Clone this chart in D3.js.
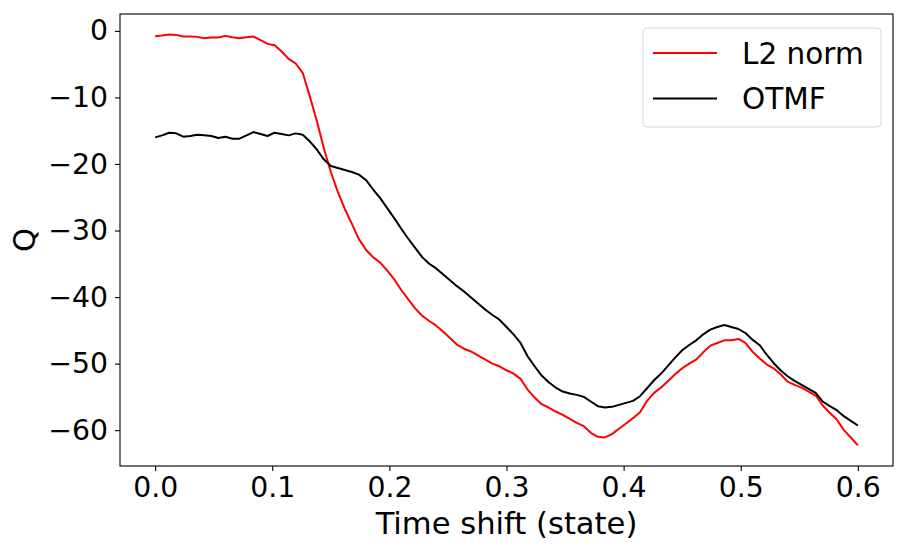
<!DOCTYPE html>
<html>
<head>
<meta charset="utf-8">
<script src="https://cdn.jsdelivr.net/npm/d3@7"></script>
<style>
  body { margin: 0; background: #fff; }
  svg { display: block; font-family: "DejaVu Sans", sans-serif; }
  .axis path, .axis line { stroke: #000; stroke-width: 1.1; }
  .axis text { font-size: 28.3px; fill: #000; font-family: "DejaVu Sans", sans-serif; }
</style>
</head>
<body>
<div id="chart"></div>
<script>
// time shift grid (state), step 0.006
const timeShift = d3.range(0, 101).map(i => +(i * 0.006).toFixed(3));

// L2 norm series
const l2Norm = [
  -0.8, -0.7, -0.55, -0.6, -0.85, -0.85, -0.9, -1.1, -1.0, -1.0,
  -0.75, -0.95, -1.1, -0.95, -0.85, -1.4, -1.95, -2.15, -3.1, -4.2,
  -4.9, -6.3, -9.8, -13.5, -17.6, -21.2, -24.2, -26.8, -29.0, -31.3,
  -32.9, -34.0, -34.8, -36.0, -37.3, -38.9, -40.3, -41.7, -42.8, -43.6,
  -44.3, -45.2, -46.2, -47.2, -47.8, -48.2, -48.8, -49.4, -50.0, -50.4,
  -51.0, -51.5, -52.3, -53.9, -55.1, -56.1, -56.6, -57.2, -57.7, -58.3,
  -58.9, -59.4, -60.4, -61.0, -61.1, -60.6, -59.8, -59.0, -58.2, -57.3,
  -55.6, -54.4, -53.6, -52.6, -51.6, -50.7, -50.0, -49.4, -48.3, -47.3,
  -46.9, -46.5, -46.5, -46.3, -46.9, -48.2, -49.2, -50.1, -50.7, -51.6,
  -52.7, -53.2, -53.6, -54.2, -54.8, -56.3, -57.4, -58.4, -60.0, -61.1,
  -62.3
];

// OTMF series
const otmf = [
  -16.0, -15.7, -15.3, -15.4, -15.9, -15.8, -15.6, -15.7, -15.8, -16.1,
  -15.9, -16.2, -16.2, -15.7, -15.2, -15.5, -15.8, -15.3, -15.5, -15.7,
  -15.4, -15.6, -16.6, -17.8, -19.3, -20.3, -20.6, -20.9, -21.2, -21.6,
  -22.4, -23.8, -25.1, -26.6, -28.1, -29.7, -31.2, -32.6, -34.0, -35.0,
  -35.7, -36.6, -37.5, -38.4, -39.2, -40.1, -41.0, -41.9, -42.7, -43.4,
  -44.5, -45.6, -46.9, -48.9, -50.4, -51.8, -52.8, -53.6, -54.2, -54.5,
  -54.7, -55.0, -55.7, -56.4, -56.6, -56.5, -56.2, -55.9, -55.6, -54.9,
  -53.7, -52.5, -51.5, -50.3, -49.1, -48.0, -47.2, -46.5, -45.6, -44.9,
  -44.5, -44.2, -44.5, -44.8, -45.4, -46.4, -47.2, -48.6, -49.9, -51.0,
  -51.9, -52.6, -53.2, -53.8, -54.4, -55.7, -56.4, -57.0, -57.9, -58.6,
  -59.3
];

const xTicks = [0.0, 0.1, 0.2, 0.3, 0.4, 0.5, 0.6];
const yTicks = [0, -10, -20, -30, -40, -50, -60];

const seriesNames = ['L2 norm', 'OTMF'];
const seriesColors = ['#ff0000', '#000000'];

const width = 907, height = 549;
const margin = { top: 14, right: 14, bottom: 83, left: 120 };
const plotW = width - margin.left - margin.right;
const plotH = height - margin.top - margin.bottom;

const svg = d3.select('#chart')
  .append('svg')
  .attr('width', width)
  .attr('height', height);

const g = svg.append('g')
  .attr('transform', `translate(${margin.left},${margin.top})`);

// matplotlib-like 5% padding on both axes
const xPad = 0.6 * 0.05;
const x = d3.scaleLinear()
  .domain([0 - xPad, 0.6 + xPad])
  .range([0, plotW]);

const allVals = l2Norm.concat(otmf);
const yMin = d3.min(allVals), yMax = d3.max(allVals);
const yPad = (yMax - yMin) * 0.05;
const y = d3.scaleLinear()
  .domain([yMin - yPad, yMax + yPad])
  .range([plotH, 0]);

const line = d3.line()
  .x((d, i) => x(timeShift[i]))
  .y(d => y(d));

g.append('clipPath').attr('id', 'clip')
  .append('rect').attr('width', plotW).attr('height', plotH);

[l2Norm, otmf].forEach((series, k) => {
  g.append('path')
    .datum(series)
    .attr('fill', 'none')
    .attr('stroke', seriesColors[k])
    .attr('stroke-width', 2)
    .attr('stroke-linejoin', 'round')
    .attr('clip-path', 'url(#clip)')
    .attr('d', line);
});

// true minus sign like matplotlib
const minusFmt = d => (d < 0 ? '\u2212' + Math.abs(d) : String(d));

// axes
const xAxis = g.append('g')
  .attr('class', 'axis')
  .attr('transform', `translate(0,${plotH})`)
  .call(d3.axisBottom(x).tickValues(xTicks).tickFormat(d3.format('.1f'))
    .tickSize(5).tickSizeOuter(0).tickPadding(6));
xAxis.select('.domain').remove();

const yAxis = g.append('g')
  .attr('class', 'axis')
  .call(d3.axisLeft(y).tickValues(yTicks).tickFormat(minusFmt)
    .tickSize(5).tickSizeOuter(0).tickPadding(7));
yAxis.select('.domain').remove();

// frame
g.append('rect')
  .attr('width', plotW)
  .attr('height', plotH)
  .attr('fill', 'none')
  .attr('stroke', '#000')
  .attr('stroke-width', 1.1);

// axis labels
svg.append('text')
  .attr('x', margin.left + plotW / 2)
  .attr('y', 534)
  .attr('text-anchor', 'middle')
  .style('font-size', '30.6px')
  .text('Time shift (state)');

svg.append('text')
  .attr('transform', `translate(35,${margin.top + plotH / 2}) rotate(-90)`)
  .attr('text-anchor', 'middle')
  .style('font-size', '30.6px')
  .text('Q');

// legend
const legend = svg.append('g')
  .attr('transform', 'translate(643,28)');

legend.append('rect')
  .attr('width', 238)
  .attr('height', 99)
  .attr('rx', 4)
  .attr('fill', '#fff')
  .attr('fill-opacity', 0.8)
  .attr('stroke', '#d6d6d6')
  .attr('stroke-width', 1);

seriesNames.forEach((name, k) => {
  const ly = 25 + k * 45.5;
  legend.append('line')
    .attr('x1', 10).attr('x2', 74)
    .attr('y1', ly).attr('y2', ly)
    .attr('stroke', seriesColors[k])
    .attr('stroke-width', 2);
  legend.append('text')
    .attr('x', 99)
    .attr('y', ly + 10.5)
    .style('font-size', '29.5px')
    .text(name);
});
</script>
</body>
</html>
